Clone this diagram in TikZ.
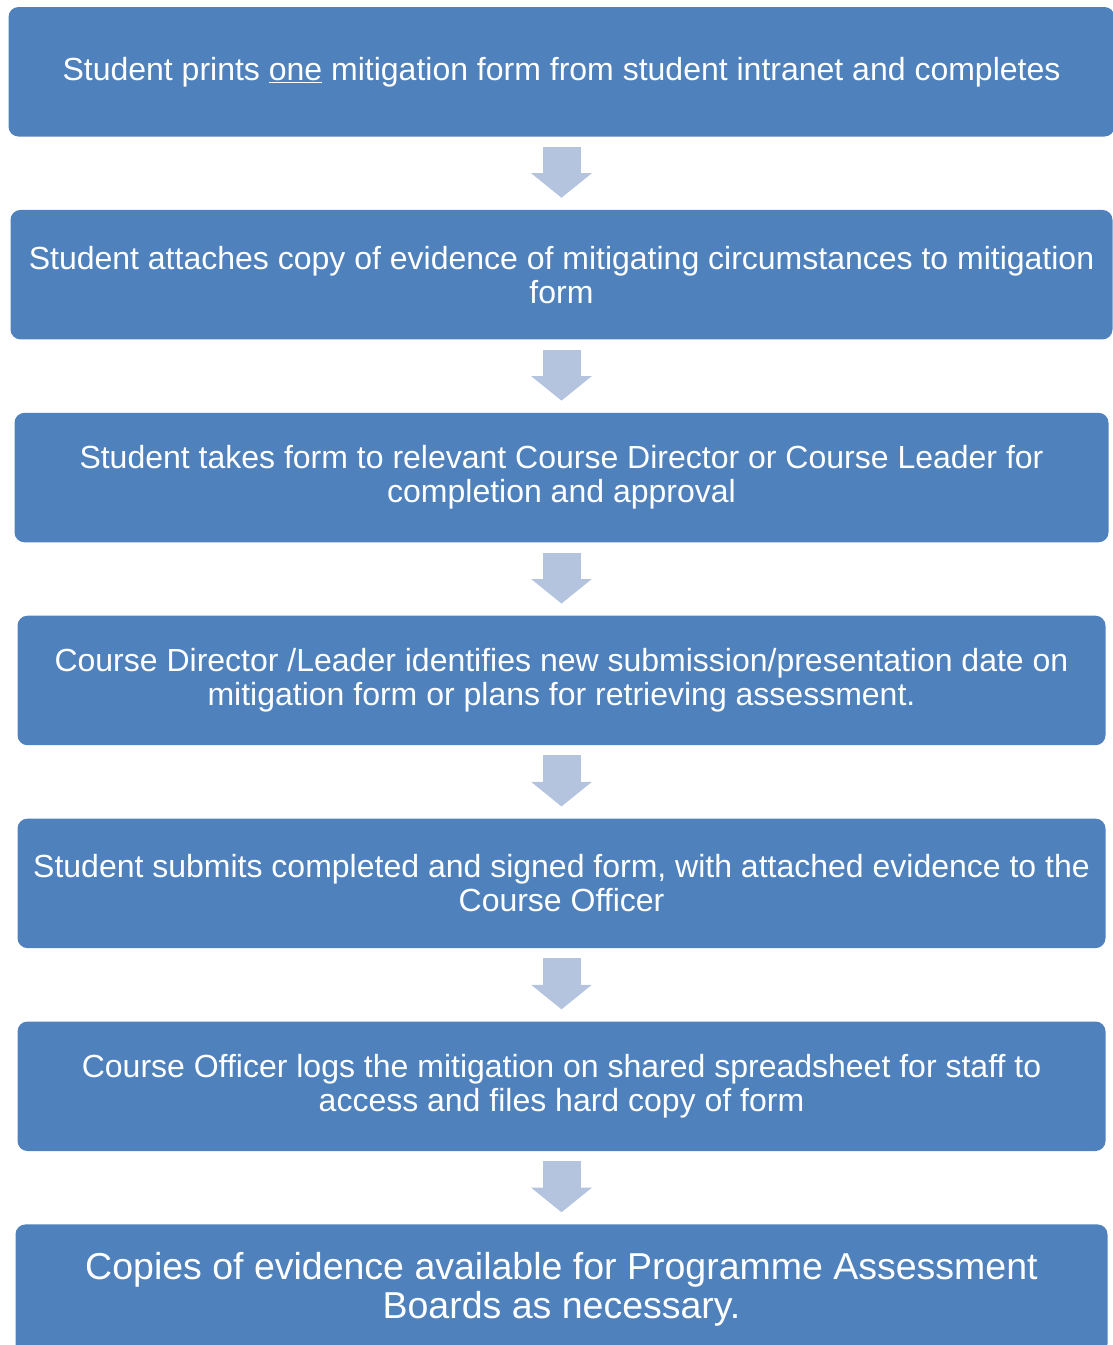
\documentclass[tikz,border=0pt]{standalone}
\usepackage{fontspec}
\setmainfont{Liberation Sans}
\usetikzlibrary{positioning,arrows.meta}
\definecolor{boxblue}{RGB}{79,129,189}
\definecolor{arrowblue}{RGB}{180,196,222}

\begin{document}
\begin{tikzpicture}[x=1pt,y=1pt,node distance=73pt]
	\tikzstyle{stage}
	  =[fill=boxblue, rectangle, rounded corners=10pt, text=white,
	  minimum height=129.5pt, align=center, inner sep=0pt,
	  font=\fontsize{32}{34}\selectfont]
	\tikzstyle{down}
	  =[draw=arrowblue, line width=38pt,
	  -{Triangle[length=24.5pt,width=60.5pt,line width=1pt]}]

	\useasboundingbox (0,0) rectangle (1112,-1345);

	\node[stage,minimum width=1106pt] (S1)
	  at (561.5,-71.75) {Student prints \underline{one} mitigation form from student intranet and completes};
	\node[stage,minimum width=1102pt] (S2)
	  [below=of S1] {Student attaches copy of evidence of mitigating circumstances to mitigation\\form};
	\node[stage,minimum width=1094pt] (S3)
	  [below=of S2] {Student takes form to relevant Course Director or Course Leader for\\completion and approval};
	\node[stage,minimum width=1088pt] (S4)
	  [below=of S3] {Course Director /Leader identifies new submission/presentation date on\\mitigation form or plans for retrieving assessment.};
	\node[stage,minimum width=1088pt] (S5)
	  [below=of S4] {Student submits completed and signed form, with attached evidence to the\\Course Officer};
	\node[stage,minimum width=1088pt] (S6)
	  [below=of S5] {Course Officer logs the mitigation on shared spreadsheet for staff to\\access and files hard copy of form};
	\node[stage,minimum width=1092pt,font=\fontsize{37.5}{38.5}\selectfont] (S7)
	  [below=of S6] {Copies of evidence available for Programme Assessment\\Boards as necessary.};

	\foreach \a/\b in {S1/S2,S2/S3,S3/S4,S4/S5,S5/S6,S6/S7}
	  \draw[down] ([yshift=-10pt]\a.south) -- ([yshift=12pt]\b.north);
\end{tikzpicture}
\end{document}
